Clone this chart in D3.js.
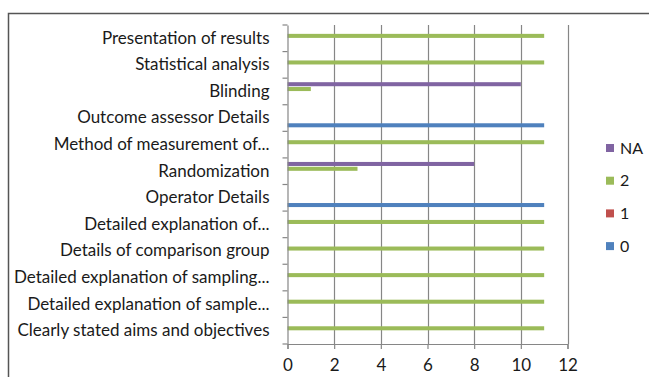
<!DOCTYPE html>
<html>
<head>
<meta charset="utf-8">
<script src="https://cdn.jsdelivr.net/npm/d3@7"></script>
<style>
  html, body { margin: 0; padding: 0; background: #fff; }
  svg { display: block; }
  text { font-family: Lato, "Liberation Sans", sans-serif; fill: #1a1a1a; }
</style>
</head>
<body>
<svg id="chart" width="649" height="377"></svg>
<script>
// Categories listed bottom to top
const categories = [
  "Clearly stated aims and objectives",
  "Detailed explanation of sample...",
  "Detailed explanation of sampling...",
  "Details of comparison group",
  "Detailed explanation of...",
  "Operator Details",
  "Randomization",
  "Method of measurement of...",
  "Outcome assessor Details",
  "Blinding",
  "Statistical analysis",
  "Presentation of results"
];
const seriesNames = ["0", "1", "2", "NA"];
const values0  = [0, 0, 0, 0, 0, 11, 0, 0, 11, 0, 0, 0];
const values1  = [0, 0, 0, 0, 0, 0, 0, 0, 0, 0, 0, 0];
const values2  = [11, 11, 11, 11, 11, 0, 3, 11, 0, 1, 11, 11];
const valuesNA = [0, 0, 0, 0, 0, 0, 8, 0, 0, 10, 0, 0];
const seriesColors = ["#4F81BD", "#C0504D", "#9BBB59", "#8064A2"];
const xTicks = [0, 2, 4, 6, 8, 10, 12];

const seriesValues = [values0, values1, values2, valuesNA];
const fontStack = "Lato, 'Liberation Sans', sans-serif";

const svg = d3.select("#chart");

// outer frame
svg.append("rect")
  .attr("x", 8.5).attr("y", 13.5)
  .attr("width", 700).attr("height", 400)
  .attr("fill", "none").attr("stroke", "#555").attr("stroke-width", 1.5);

const plot = { left: 287.5, right: 567.5, top: 25, bottom: 344 };

const x = d3.scaleLinear().domain([0, 12]).range([plot.left, plot.right]);
// top category first on screen
const y = d3.scaleBand().domain(categories.slice().reverse()).range([plot.top, plot.bottom]).paddingInner(0).paddingOuter(0);
// series inside a group: "0" lowest, "NA" highest
const groupWidth = y.bandwidth() * 4 / 5.5;
const ys = d3.scaleBand().domain(seriesNames.slice().reverse())
  .range([(y.bandwidth() - groupWidth) / 2, (y.bandwidth() + groupWidth) / 2]);

// vertical gridlines
svg.append("g").selectAll("line").data(xTicks.slice(1)).join("line")
  .attr("x1", d => Math.round(x(d)) + 0.5).attr("x2", d => Math.round(x(d)) + 0.5)
  .attr("y1", plot.top).attr("y2", plot.bottom)
  .attr("stroke", "#868686").attr("stroke-width", 1.2);

// bars
const rows = [];
categories.forEach((c, i) => {
  seriesNames.forEach((s, k) => {
    rows.push({ cat: c, series: s, value: seriesValues[k][i], color: seriesColors[k] });
  });
});
svg.append("g").selectAll("rect").data(rows.filter(d => d.value > 0)).join("rect")
  .attr("x", x(0))
  .attr("y", d => y(d.cat) + ys(d.series) + 0.4)
  .attr("width", d => x(d.value) - x(0))
  .attr("height", ys.bandwidth() - 0.8)
  .attr("fill", d => d.color);

// x axis
const xAxis = d3.axisBottom(x).tickValues(xTicks).tickSize(5).tickPadding(10);
const gx = svg.append("g").attr("transform", `translate(0,${plot.bottom})`).call(xAxis);
gx.select(".domain").attr("stroke", "#868686").attr("stroke-width", 1.2);
gx.selectAll(".tick line").attr("stroke", "#868686").attr("stroke-width", 1.2);
gx.selectAll(".tick text").attr("font-size", 17).attr("fill", "#1a1a1a")
  .style("font-family", fontStack);

// y axis
const yAxis = d3.axisLeft(y).tickSize(0).tickPadding(18);
const gy = svg.append("g").attr("transform", `translate(${plot.left},0)`).call(yAxis);
gy.select(".domain").attr("stroke", "#868686").attr("stroke-width", 1.2);
gy.selectAll(".tick text").attr("font-size", 17).attr("fill", "#1a1a1a")
  .style("font-family", fontStack);
// category boundary ticks
const bounds = categories.map(c => y(c)).concat([plot.bottom]);
svg.append("g").selectAll("line").data(bounds).join("line")
  .attr("x1", plot.left - 5).attr("x2", plot.left)
  .attr("y1", d => d).attr("y2", d => d)
  .attr("stroke", "#868686").attr("stroke-width", 1.2);

// legend
const legendItems = seriesNames.slice().reverse();
const legendColors = seriesColors.slice().reverse();
const lg = svg.append("g").attr("transform", "translate(606,148)");
legendItems.forEach((name, i) => {
  const g = lg.append("g").attr("transform", `translate(0,${i * 32.7})`);
  g.append("rect").attr("x", 0).attr("y", -4).attr("width", 8).attr("height", 8).attr("fill", legendColors[i]);
  g.append("text").attr("x", 14).attr("y", 0).attr("dy", "0.35em").attr("font-size", 16).text(name);
});
</script>
</body>
</html>
